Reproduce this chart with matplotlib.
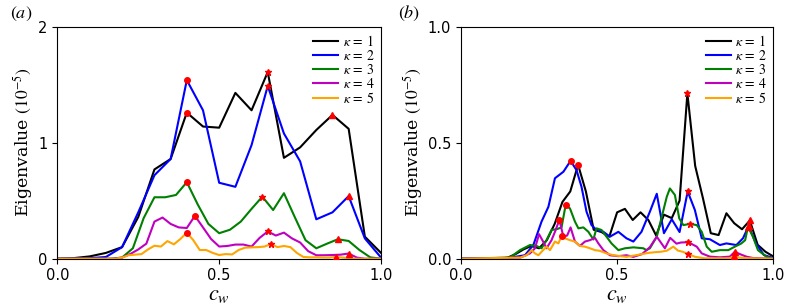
import numpy as np
import matplotlib
matplotlib.use("Agg")
import matplotlib.pyplot as plt

plt.rcParams['mathtext.fontset'] = 'stix'

colors = ['black', 'blue', 'green', 'm', 'orange']
labels = [r'$\kappa\,=\,1$', r'$\kappa\,=\,2$', r'$\kappa\,=\,3$', r'$\kappa\,=\,4$', r'$\kappa\,=\,5$']

# ---- panel (a) ----
xa1 = np.arange(21) / 20
ya1 = [0, 0.005, 0.02, 0.05, 0.10, 0.36, 0.77, 0.86, 1.26, 1.14, 1.13, 1.43, 1.28,
       1.61, 0.87, 0.96, 1.11, 1.24, 1.12, 0.19, 0.05]
xa2 = np.arange(21) / 20
ya2 = [0, 0.0, 0.005, 0.015, 0.10, 0.40, 0.72, 0.86, 1.54, 1.28, 0.655, 0.62, 0.98,
       1.49, 1.08, 0.84, 0.34, 0.40, 0.54, 0.175, 0.01]
xa3 = np.arange(31) / 30
ya3 = [0, 0, 0, 0, 0, 0, 0.01, 0.09, 0.35, 0.53, 0.53, 0.55, 0.66, 0.47, 0.30, 0.22,
       0.25, 0.32, 0.43, 0.535, 0.42, 0.565, 0.36, 0.16, 0.09, 0.13, 0.168, 0.153,
       0.075, 0.012, 0.0]
xa4 = np.arange(41) / 40
ya4 = [0, 0, 0, 0, 0, 0, 0, 0, 0.01, 0.04, 0.08, 0.13, 0.32, 0.355, 0.30, 0.27, 0.265,
       0.37, 0.27, 0.17, 0.105, 0.11, 0.122, 0.122, 0.105, 0.18, 0.235, 0.20, 0.225,
       0.175, 0.14, 0.065, 0.03, 0.03, 0.032, 0.035, 0.045, 0.01, 0, 0, 0]
xa5 = np.arange(51) / 50
ya5 = [0, 0, 0, 0, 0, 0, 0, 0, 0, 0, 0.01, 0.03, 0.035, 0.04, 0.08, 0.112, 0.105,
       0.152, 0.124, 0.17, 0.224, 0.16, 0.075, 0.075, 0.05, 0.032, 0.04, 0.037, 0.075,
       0.095, 0.098, 0.1, 0.105, 0.127, 0.1, 0.11, 0.1, 0.05, 0.015, 0.012, 0.012,
       0.01, 0.01, 0.015, 0.01, 0.005, 0, 0, 0, 0, 0]
# peak markers: circle, star, triangle (x positions)
mka = [[0.4, 0.65, 0.85], [0.4, 0.65, 0.9], [0.4, 0.633, 0.867],
       [0.425, 0.65, 0.9], [0.4, 0.66, 0.86]]

# ---- panel (b) ----
xb1 = np.arange(41) / 40
yb1 = [0, 0, 0, 0, 0, 0, 0.005, 0.02, 0.04, 0.055, 0.045, 0.08, 0.15, 0.245, 0.29,
       0.405, 0.29, 0.125, 0.115, 0.095, 0.20, 0.215, 0.167, 0.20, 0.167, 0.10, 0.19,
       0.175, 0.25, 0.713, 0.40, 0.26, 0.11, 0.102, 0.196, 0.153, 0.127, 0.165, 0.06,
       0.03, 0.01]
xb2 = [0, 0.15, 0.205, 0.232, 0.258, 0.28, 0.301, 0.328, 0.351, 0.37, 0.386, 0.402,
       0.418, 0.434, 0.456, 0.477, 0.504, 0.53, 0.552, 0.578, 0.605, 0.627, 0.65, 0.675,
       0.7, 0.726, 0.749, 0.771, 0.797, 0.829, 0.85, 0.882, 0.903, 0.921, 0.945, 0.97,
       1.0]
yb2 = [0, 0.003, 0.015, 0.06, 0.16, 0.224, 0.347, 0.375, 0.422, 0.382, 0.31, 0.203,
       0.145, 0.124, 0.116, 0.095, 0.116, 0.088, 0.074, 0.116, 0.203, 0.28, 0.11, 0.17,
       0.115, 0.29, 0.21, 0.088, 0.084, 0.059, 0.066, 0.059, 0.088, 0.14, 0.065, 0.016,
       0.003]
xb3 = [0, 0.157, 0.189, 0.221, 0.242, 0.258, 0.274, 0.29, 0.306, 0.322, 0.335, 0.349,
       0.365, 0.376, 0.392, 0.408, 0.424, 0.434, 0.45, 0.466, 0.482, 0.504, 0.525, 0.552,
       0.584, 0.594, 0.605, 0.627, 0.643, 0.659, 0.669, 0.685, 0.699, 0.712, 0.733,
       0.755, 0.771, 0.787, 0.803, 0.829, 0.856, 0.877, 0.898, 0.91, 0.919, 0.935,
       0.951, 0.978, 1.0]
yb3 = [0, 0.005, 0.037, 0.059, 0.055, 0.045, 0.08, 0.124, 0.127, 0.135, 0.23, 0.217,
       0.16, 0.131, 0.135, 0.116, 0.083, 0.131, 0.124, 0.095, 0.066, 0.037, 0.045, 0.049,
       0.045, 0.037, 0.045, 0.095, 0.181, 0.267, 0.303, 0.275, 0.174, 0.145, 0.15,
       0.145, 0.116, 0.052, 0.03, 0.037, 0.037, 0.052, 0.066, 0.08, 0.138, 0.095,
       0.037, 0.009, 0.0]
xb4 = [0, 0.19, 0.221, 0.237, 0.25, 0.263, 0.274, 0.29, 0.301, 0.315, 0.328, 0.34,
       0.351, 0.365, 0.381, 0.397, 0.413, 0.429, 0.44, 0.456, 0.477, 0.504, 0.53, 0.552,
       0.58, 0.605, 0.627, 0.653, 0.67, 0.69, 0.705, 0.728, 0.755, 0.771, 0.797, 0.829,
       0.861, 0.877, 0.893, 0.914, 0.935, 1.0]
yb4 = [0, 0.005, 0.023, 0.045, 0.106, 0.074, 0.045, 0.08, 0.116, 0.167, 0.095, 0.10,
       0.135, 0.074, 0.055, 0.074, 0.08, 0.09, 0.066, 0.037, 0.015, 0.011, 0.015, 0.008,
       0.02, 0.05, 0.095, 0.045, 0.09, 0.065, 0.07, 0.071, 0.052, 0.023, 0.009, 0.006,
       0.009, 0.03, 0.02, 0.009, 0.003, 0.0]
xb5 = [0, 0.19, 0.21, 0.226, 0.237, 0.248, 0.258, 0.274, 0.285, 0.301, 0.312, 0.322,
       0.333, 0.349, 0.365, 0.381, 0.397, 0.413, 0.429, 0.445, 0.466, 0.488, 0.53, 0.56,
       0.58, 0.6, 0.62, 0.64, 0.66, 0.68, 0.695, 0.71, 0.728, 0.75, 0.78, 0.86, 0.875,
       0.89, 0.92, 1.0]
yb5 = [0, 0.005, 0.015, 0.037, 0.023, 0.015, 0.03, 0.052, 0.037, 0.074, 0.066, 0.097,
       0.088, 0.08, 0.074, 0.055, 0.052, 0.045, 0.037, 0.034, 0.023, 0.015, 0.008, 0.015,
       0.02, 0.025, 0.028, 0.03, 0.035, 0.052, 0.035, 0.03, 0.02, 0.008, 0.002, 0.002,
       0.012, 0.005, 0.002, 0.0]
mkb = [[0.375, 0.725, 0.925], [0.351, 0.726, 0.921], [0.335, 0.733, 0.919],
       [0.315, 0.728, 0.877], [0.322, 0.728, 0.875]]

series_a = [(xa1, ya1), (xa2, ya2), (xa3, ya3), (xa4, ya4), (xa5, ya5)]
series_b = [(xb1, yb1), (xb2, yb2), (xb3, yb3), (xb4, yb4), (xb5, yb5)]

fig = plt.figure(figsize=(7.93, 3.08), dpi=100)
ax1 = fig.add_axes([0.0723, 0.160, 0.4082, 0.753])
ax2 = fig.add_axes([0.5813, 0.160, 0.3938, 0.753])


def draw(ax, series, marks, ymax, yticks, yticklabels):
    for (x, y), c, lab in zip(series, colors, labels):
        ax.plot(x, y, color=c, lw=1.5, label=lab)
    for (x, y), mk in zip(series, marks):
        x = np.asarray(x)
        y = np.asarray(y)
        for xm, sym, ms in zip(mk, ['o', '*', '^'], [4, 5, 4]):
            i = np.argmin(np.abs(x - xm))
            ax.plot(x[i], y[i], sym, color='red', ms=ms, zorder=5)
    ax.set_xlim(0, 1)
    ax.set_ylim(0, ymax)
    ax.set_xticks([0, 0.5, 1.0])
    ax.set_xticklabels(['0.0', '0.5', '1.0'], fontsize=10.5)
    ax.set_yticks(yticks)
    ax.set_yticklabels(yticklabels, fontsize=10.5)
    ax.set_xlabel(r'$c_w$', fontsize=16, labelpad=1)
    ax.set_ylabel(r'Eigenvalue $(10^{-5})$', fontsize=12.5, family='DejaVu Serif',
                  labelpad=2)
    ax.legend(loc='upper right', frameon=False, fontsize=10, handlelength=1.8,
              labelspacing=0.0, borderaxespad=0.1, handletextpad=0.3)


draw(ax1, series_a, mka, 2, [0, 1, 2], ['0', '1', '2'])
draw(ax2, series_b, mkb, 1.0, [0, 0.5, 1.0], ['0.0', '0.5', '1.0'])

fig.text(0.012, 0.955, r'$(a)$', fontsize=13, va='center')
fig.text(0.502, 0.955, r'$(b)$', fontsize=13, va='center')

fig.savefig('out.png', dpi=100)
